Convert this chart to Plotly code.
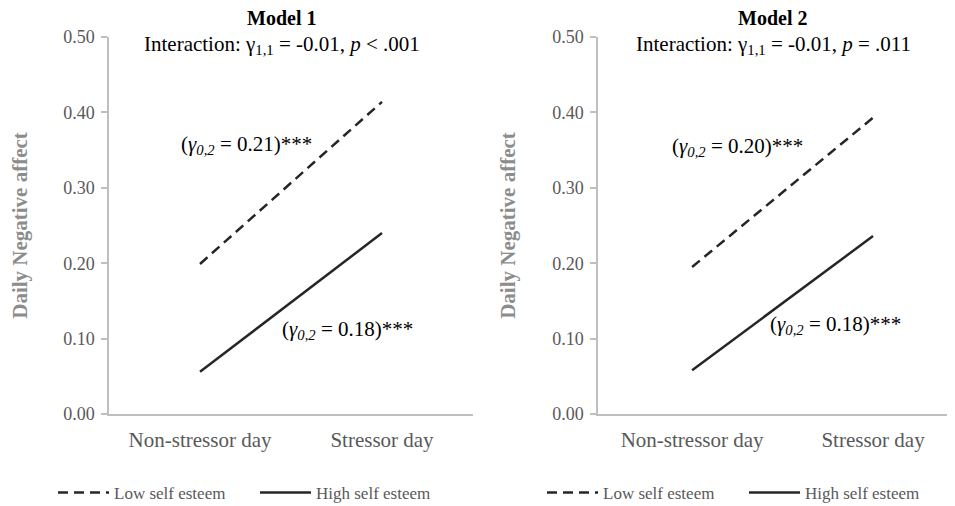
import plotly.graph_objects as go

categories = ["Non-stressor day", "Stressor day"]
m1_low = [0.199, 0.414]
m1_high = [0.056, 0.240]
m2_low = [0.195, 0.393]
m2_high = [0.058, 0.236]
y_ticks = [0.0, 0.1, 0.2, 0.3, 0.4, 0.5]
y_ticklabels = ["0.00", "0.10", "0.20", "0.30", "0.40", "0.50"]

FONT = "Liberation Serif"
LINE_C = "#262626"
DASH = "10px,6px"
OFF = 8  # page body margin
W, H = 955 - OFF, 506 - OFF

fig = go.Figure()
fig.add_trace(go.Scatter(x=categories, y=m1_low, mode="lines", name="Low self esteem",
                         line=dict(color=LINE_C, width=2.5, dash=DASH),
                         xaxis="x", yaxis="y", legend="legend"))
fig.add_trace(go.Scatter(x=categories, y=m1_high, mode="lines", name="High self esteem",
                         line=dict(color=LINE_C, width=2.5),
                         xaxis="x", yaxis="y", legend="legend"))
fig.add_trace(go.Scatter(x=categories, y=m2_low, mode="lines", name="Low self esteem",
                         line=dict(color=LINE_C, width=2.5, dash=DASH),
                         xaxis="x2", yaxis="y2", legend="legend2"))
fig.add_trace(go.Scatter(x=categories, y=m2_high, mode="lines", name="High self esteem",
                         line=dict(color=LINE_C, width=2.5),
                         xaxis="x2", yaxis="y2", legend="legend2"))

def px_x(p):
    return (p - OFF) / W

def px_y(p):
    return (H - (p - OFF)) / H

ydom = [px_y(414), px_y(37)]

xaxis_common = dict(
    type="category", showgrid=False, zeroline=False, showline=True,
    linecolor="#BFBFBF", linewidth=1.5, ticks="", fixedrange=True,
    tickfont=dict(family=FONT, size=21, color="#595959"),
    ticklabelstandoff=6, automargin=False,
)
yaxis_common = dict(
    range=[0, 0.5], tickvals=y_ticks, ticktext=y_ticklabels,
    showgrid=False, zeroline=False, showline=True, linecolor="#BFBFBF",
    linewidth=1.5, ticks="outside", ticklen=6, tickcolor="#BFBFBF", tickwidth=1.5,
    tickfont=dict(family=FONT, size=18, color="#595959"),
    ticklabelstandoff=3, domain=ydom, automargin=False,
    title=dict(text="<b>Daily Negative affect</b>",
               font=dict(family=FONT, size=21, color="#8C8C8C"), standoff=31),
)

legend_common = dict(orientation="h", yanchor="middle", xanchor="left",
                     font=dict(family=FONT, size=17, color="#595959"),
                     entrywidth=136, itemwidth=51, bgcolor="rgba(0,0,0,0)")

fig.update_layout(
    width=W, height=H, margin=dict(l=0, r=0, t=0, b=0, autoexpand=False),
    paper_bgcolor="white", plot_bgcolor="white",
    font=dict(family=FONT),
    xaxis=dict(**xaxis_common, domain=[px_x(109), px_x(473)], range=[-0.5, 1.5], anchor="y"),
    yaxis=dict(**yaxis_common, anchor="x"),
    xaxis2=dict(**xaxis_common, domain=[px_x(598), 1.0], range=[-0.52, 1.453], anchor="y2"),
    yaxis2=dict(**yaxis_common, anchor="x2"),
    legend=dict(**legend_common, x=px_x(53), y=px_y(493)),
    legend2=dict(**legend_common, x=px_x(542), y=px_y(493)),
)

annos = [
    dict(text="<b>Model 1</b>", x=px_x(281), y=px_y(18), size=20),
    dict(text="Interaction: γ<sub>1,1</sub> = -0.01, <i>p</i> < .001", x=px_x(282), y=px_y(45), size=21),
    dict(text="<b>Model 2</b>", x=px_x(772), y=px_y(18), size=20),
    dict(text="Interaction: γ<sub>1,1</sub> = -0.01, <i>p</i> = .011", x=px_x(773), y=px_y(45), size=21),
    dict(text="(<i>γ<sub>0,2</sub></i> = 0.21)***", x=px_x(246), y=px_y(145), size=21),
    dict(text="(<i>γ<sub>0,2</sub></i> = 0.18)***", x=px_x(347), y=px_y(330), size=21),
    dict(text="(<i>γ<sub>0,2</sub></i> = 0.20)***", x=px_x(737), y=px_y(147), size=21),
    dict(text="(<i>γ<sub>0,2</sub></i> = 0.18)***", x=px_x(835), y=px_y(325), size=21),
]
for a in annos:
    fig.add_annotation(text=a["text"], x=a["x"], y=a["y"], xref="paper", yref="paper",
                       xanchor="center", yanchor="middle", showarrow=False,
                       font=dict(family=FONT, size=a["size"], color="#000000"))

fig.write_html("out.html")
